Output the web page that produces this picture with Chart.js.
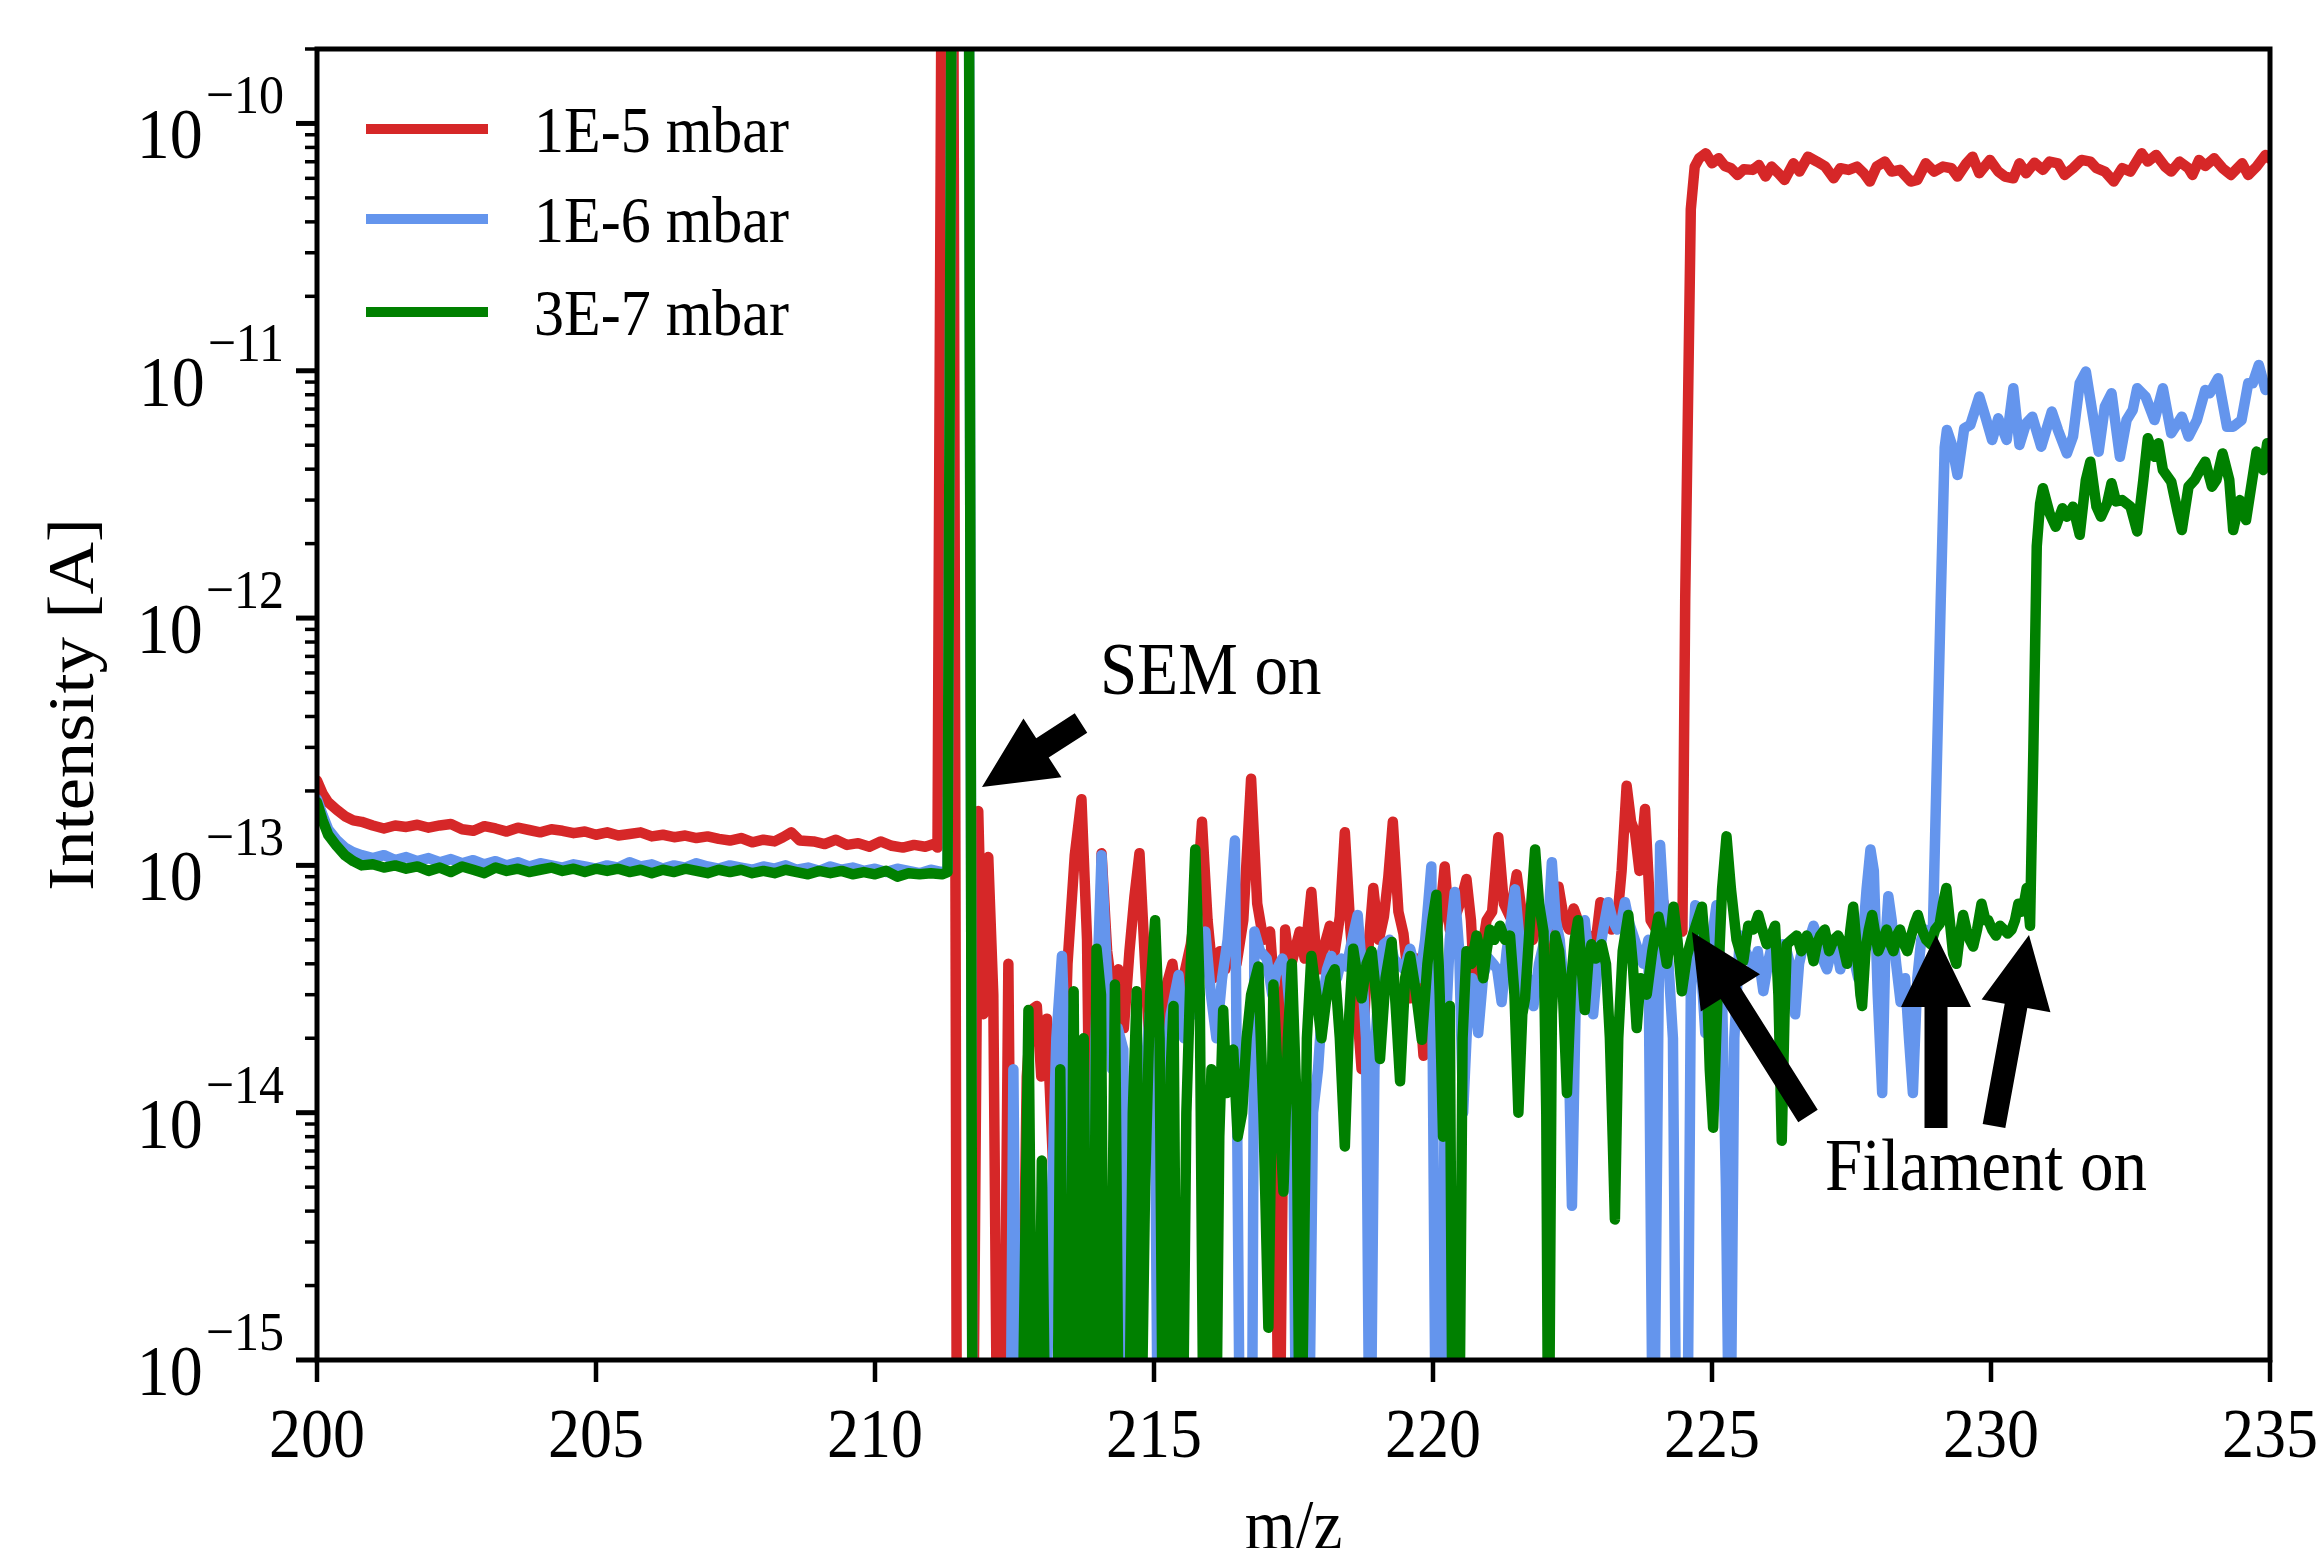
<!DOCTYPE html>
<html>
<head>
<meta charset="utf-8">
<script src="https://cdn.jsdelivr.net/npm/chart.js@4.4.1/dist/chart.umd.min.js"></script>
<style>
  html, body { margin: 0; padding: 0; background: #fff; }
  canvas { display: block; }
</style>
</head>
<body>
<canvas id="spectrum" width="2321" height="1548" style="width:2321px;height:1548px"></canvas>
<script>
// intensities are read in fA (1e-15 A); 0.2 means the trace dropped off the bottom
const FA = 1e-15;

const seriesLabels = ['1E-5 mbar', '1E-6 mbar', '3E-7 mbar'];
const seriesColors = ['#d62728', '#6495ed', '#008000'];
const xTicks = [200, 205, 210, 215, 220, 225, 230, 235];
const yDecades = [-15, -14, -13, -12, -11, -10];

// ---- 1E-5 mbar ----
const redBase = [[200,220],[200.1,195],[200.2,180],[200.35,168],[200.5,158],[200.65,152],[200.8,150],[201,145],[201.2,141],[201.4,145],[201.6,143],[201.8,146],[202,142],[202.2,145],[202.4,147],[202.6,140],[202.8,138],[203,144],[203.2,141],[203.4,137],[203.6,142],[203.8,139],[204,136],[204.2,140],[204.4,138],[204.6,135],[204.8,137],[205,133],[205.2,136],[205.4,132],[205.6,134],[205.8,136],[206,131],[206.2,133],[206.4,130],[206.6,132],[206.8,129],[207,131],[207.2,128],[207.4,126],[207.6,129],[207.8,124],[208,127],[208.2,125],[208.35,130],[208.5,136],[208.65,126],[208.9,125],[209.1,122],[209.3,127],[209.5,121],[209.7,123],[209.9,119],[210.1,125],[210.3,120],[210.5,118],[210.7,121],[210.9,119],[211.05,122],[211.12,118]];
const redNoise = [[211.2,1e6],[211.4,1e6],[211.47,0.2],[211.6,0.2],[211.75,0.2],[211.85,166],[211.94,25],[212.03,108],[212.12,30],[212.2,0.2],[212.3,0.2],[212.39,40],[212.48,0.2],[212.6,0.2],[212.72,14],[212.8,26],[212.9,27],[212.98,14],[213.08,24],[213.16,9],[213.25,3],[213.35,8],[213.45,40],[213.58,110],[213.7,185],[213.8,50],[213.93,0.2],[214.06,112],[214.16,45],[214.26,30],[214.36,38],[214.46,22],[214.56,45],[214.65,75],[214.74,112],[214.84,40],[214.92,18],[215,15],[215.12,20],[215.23,33],[215.33,40],[215.4,30],[215.47,31],[215.56,38],[215.66,48],[215.76,70],[215.86,150],[215.96,60],[216.06,35],[216.18,45],[216.28,38],[216.38,50],[216.48,40],[216.6,60],[216.74,224],[216.85,70],[216.96,50],[217.08,54],[217.16,30],[217.24,0.2],[217.35,55],[217.44,38],[217.52,45],[217.61,54],[217.7,42],[217.82,78],[217.9,45],[217.97,38],[218.06,48],[218.15,57],[218.24,45],[218.33,62],[218.42,136],[218.52,55],[218.62,30],[218.72,15],[218.82,40],[218.93,81],[219.03,50],[219.12,62],[219.2,90],[219.28,150],[219.38,65],[219.47,53],[219.59,29],[219.7,42],[219.83,17],[219.94,45],[220.05,52],[220.13,65],[220.21,99],[220.3,55],[220.4,62],[220.5,72],[220.6,88],[220.68,60],[220.75,30],[220.84,40],[220.96,60],[221.06,65],[221.17,130],[221.27,70],[221.38,62],[221.5,92],[221.6,62],[221.68,57],[221.79,50],[221.9,68],[221.98,55],[222.06,38],[222.15,58],[222.25,82],[222.35,60],[222.44,55],[222.52,67],[222.62,58],[222.72,48],[222.8,52],[222.87,40],[223,71],[223.1,58],[223.2,55],[223.3,60],[223.38,95],[223.47,210],[223.55,150],[223.62,136],[223.7,95],[223.8,169],[223.9,60],[224,55],[224.13,71],[224.22,55],[224.31,67],[224.4,58],[224.47,54]];
const redPlateau = [[224.52,1200],[224.62,45000],[224.69,66900],[224.77,72300],[224.89,75700],[225,69000],[225.12,72300],[225.23,67300],[225.34,65900],[225.46,61900],[225.57,65300],[225.73,64900],[225.84,67900],[225.96,61000],[226.07,66900],[226.19,62900],[226.3,59100],[226.46,69000],[226.57,63900],[226.72,73400],[226.88,70100],[227.03,66900],[227.18,60000],[227.3,65900],[227.45,64900],[227.6,66900],[227.72,62900],[227.83,58200],[227.95,66900],[228.1,70100],[228.22,63900],[228.37,64900],[228.56,58200],[228.68,59100],[228.83,69000],[228.98,63900],[229.14,66900],[229.29,65900],[229.4,61000],[229.56,69000],[229.67,73400],[229.79,62900],[229.98,71200],[230.13,63900],[230.25,61000],[230.4,60000],[230.51,69000],[230.63,62900],[230.78,69400],[230.93,64900],[231.05,70100],[231.2,69000],[231.32,61900],[231.47,65900],[231.62,71200],[231.78,70100],[231.89,65900],[232.04,63900],[232.2,58200],[232.35,65900],[232.5,63900],[232.7,75700],[232.81,70100],[232.96,74600],[233.12,66900],[233.23,63900],[233.38,70100],[233.54,65900],[233.61,61900],[233.73,71200],[233.84,67300],[234,72300],[234.15,65900],[234.3,61900],[234.5,69000],[234.61,61900],[234.76,66900],[234.92,74600],[235,72000]];

// ---- 1E-6 mbar ----
const blueBase = [[200,185],[200.1,160],[200.2,140],[200.35,127],[200.5,118],[200.65,113],[200.8,110],[201,107],[201.2,110],[201.4,105],[201.6,108],[201.8,104],[202,107],[202.2,103],[202.4,106],[202.6,102],[202.8,105],[203,101],[203.2,104],[203.4,100],[203.6,103],[203.8,99],[204,102],[204.2,100],[204.4,98],[204.6,101],[204.8,99],[205,97],[205.2,100],[205.4,98],[205.6,103],[205.8,99],[206,101],[206.2,97],[206.4,100],[206.6,98],[206.8,102],[207,99],[207.2,97],[207.4,100],[207.6,98],[207.8,96],[208,99],[208.2,97],[208.4,100],[208.6,96],[208.8,98],[209,95],[209.2,99],[209.4,96],[209.6,98],[209.8,95],[210,97],[210.2,94],[210.4,97],[210.6,95],[210.8,93],[211,96],[211.2,94],[211.3,96]];
const blueNoise = [[211.38,1e6],[211.68,1e6],[211.75,0.2],[211.9,0.2],[212.1,0.2],[212.3,0.2],[212.42,0.2],[212.48,15],[212.55,0.2],[212.7,0.2],[212.85,0.2],[213,0.2],[213.15,3],[213.25,20],[213.35,43],[213.45,10],[213.55,0.2],[213.65,5],[213.73,18],[213.8,0.2],[213.95,20],[214.06,110],[214.15,40],[214.25,15],[214.35,22],[214.45,18],[214.54,0.2],[214.63,0.2],[214.72,0.2],[214.82,12],[214.92,25],[215.02,10],[215.08,0.2],[215.2,15],[215.3,25],[215.44,36],[215.54,20],[215.62,30],[215.72,25],[215.82,40],[215.92,54],[216.02,30],[216.12,20],[216.22,35],[216.32,50],[216.45,126],[216.55,0.2],[216.65,0.2],[216.75,0.2],[216.8,54],[216.9,45],[217.02,42],[217.12,30],[217.2,38],[217.3,42],[217.38,36],[217.48,20],[217.56,0.2],[217.66,0.2],[217.76,0.2],[217.85,10],[217.94,15],[218.02,28],[218.1,38],[218.18,43],[218.28,35],[218.36,42],[218.45,39],[218.55,50],[218.65,63],[218.72,40],[218.8,20],[218.87,0.2],[218.95,15],[219.04,40],[219.12,48],[219.22,50],[219.3,42],[219.38,40],[219.48,38],[219.59,46],[219.68,38],[219.76,35],[219.86,50],[219.97,99],[220.06,0.2],[220.14,0.2],[220.22,20],[220.3,50],[220.39,78],[220.47,45],[220.54,10],[220.62,25],[220.7,35],[220.81,21],[220.9,36],[221,42],[221.08,40],[221.15,38],[221.23,28],[221.32,45],[221.4,60],[221.47,80],[221.55,50],[221.62,29],[221.7,35],[221.8,27],[221.9,40],[222,50],[222.07,60],[222.13,103],[222.2,60],[222.27,50],[222.36,30],[222.44,15],[222.49,4.2],[222.56,30],[222.64,58],[222.72,60],[222.8,40],[222.87,25],[222.95,40],[223.05,55],[223.14,71],[223.22,60],[223.3,55],[223.38,60],[223.44,71],[223.52,58],[223.59,52],[223.68,45],[223.77,40],[223.86,50],[223.95,0.2],[224.07,121],[224.15,60],[224.22,40],[224.3,20],[224.37,0.2],[224.46,0.2],[224.55,0.2],[224.62,30],[224.7,69],[224.8,40],[224.88,21],[224.97,45],[225.08,69],[225.18,30],[225.25,5],[225.32,0.2],[225.4,20],[225.5,52],[225.6,45],[225.67,42],[225.74,39],[225.82,45],[225.92,31],[226.02,42],[226.1,50],[226.2,45],[226.27,48],[226.34,45],[226.42,38],[226.49,25],[226.56,40],[226.64,48],[226.74,50],[226.82,57],[226.9,50],[226.98,42],[227.06,38],[227.14,45],[227.22,48],[227.3,38],[227.38,45],[227.46,50],[227.54,42],[227.62,35],[227.7,50],[227.77,80],[227.84,116],[227.9,95],[227.97,30],[228.05,12],[228.11,50],[228.16,75],[228.22,60],[228.3,40],[228.38,28],[228.46,35],[228.53,20],[228.6,12],[228.68,35],[228.75,50],[228.82,55],[228.9,52],[228.96,57]];
const bluePlateau = [[229.05,400],[229.1,1200],[229.17,4900],[229.21,5760],[229.29,5090],[229.4,3790],[229.52,5850],[229.63,6040],[229.79,7860],[229.9,6520],[230.02,5250],[230.13,6420],[230.28,5250],[230.4,8500],[230.51,5010],[230.63,6130],[230.74,6520],[230.9,4930],[231.09,6840],[231.2,5760],[231.36,4630],[231.47,5420],[231.59,8900],[231.7,9920],[231.81,6940],[231.93,4710],[232.04,7160],[232.16,8110],[232.31,4490],[232.43,6320],[232.54,6940],[232.62,8500],[232.77,7860],[232.93,6320],[233.08,8500],[233.23,5590],[233.42,6520],[233.54,5420],[233.69,6320],[233.84,8360],[233.92,8110],[234.07,9330],[234.23,5940],[234.34,5940],[234.49,6320],[234.61,8900],[234.69,8900],[234.8,10550],[234.92,8360],[235,8800]];

// ---- 3E-7 mbar ----
const greenBase = [[200,180],[200.1,152],[200.2,133],[200.35,120],[200.5,110],[200.65,104],[200.8,100],[201,101],[201.2,98],[201.4,100],[201.6,97],[201.8,99],[202,95],[202.2,98],[202.4,94],[202.6,99],[202.8,96],[203,93],[203.2,98],[203.4,95],[203.6,97],[203.8,94],[204,96],[204.2,98],[204.4,95],[204.6,97],[204.8,94],[205,97],[205.2,95],[205.4,97],[205.6,94],[205.8,96],[206,93],[206.2,96],[206.4,94],[206.6,97],[206.8,95],[207,93],[207.2,96],[207.4,94],[207.6,96],[207.8,93],[208,95],[208.2,93],[208.4,96],[208.6,94],[208.8,92],[209,95],[209.2,93],[209.4,95],[209.6,92],[209.8,94],[210,92],[210.2,95],[210.4,90],[210.6,93],[210.8,92],[211,93],[211.2,92],[211.3,94]];
const greenNoise = [[211.38,1e6],[211.68,1e6],[211.75,0.2],[211.9,0.2],[212.05,0.2],[212.2,0.2],[212.35,0.2],[212.5,0.2],[212.62,0.2],[212.75,26],[212.84,0.2],[212.92,0.2],[212.99,6.4],[213.07,0.2],[213.18,0.2],[213.26,0.2],[213.32,15],[213.4,0.2],[213.48,0.2],[213.56,31],[213.62,0.2],[213.67,2.7],[213.74,20],[213.82,0.2],[213.9,0.2],[213.97,46],[214.05,30],[214.12,0.2],[214.2,0.2],[214.3,33],[214.38,0.2],[214.46,0.2],[214.54,0.2],[214.62,10],[214.69,31],[214.75,0.2],[214.84,5],[214.93,30],[215.02,60],[215.1,20],[215.17,0.2],[215.23,2.1],[215.3,15],[215.35,27],[215.42,0.2],[215.5,0.2],[215.58,10],[215.66,40],[215.74,116],[215.82,30],[215.9,0.2],[215.97,5],[216.03,15],[216.1,0.2],[216.17,8],[216.24,26],[216.3,12],[216.36,17],[216.42,18],[216.5,8],[216.58,10],[216.66,20],[216.74,30],[216.87,39],[216.96,10],[217.05,1.35],[217.14,33],[217.23,12],[217.32,4.8],[217.4,20],[217.47,40],[217.56,10],[217.62,0.2],[217.67,1.2],[217.74,20],[217.82,43],[217.91,30],[218,20],[218.08,28],[218.16,35],[218.24,38],[218.33,20],[218.42,7.3],[218.5,25],[218.57,46],[218.65,35],[218.72,29],[218.81,40],[218.9,45],[218.98,30],[219.05,16.5],[219.15,35],[219.26,49],[219.34,25],[219.41,13.4],[219.5,35],[219.59,43],[219.7,30],[219.8,19.7],[219.9,40],[219.99,60],[220.06,76],[220.12,30],[220.18,8],[220.25,20],[220.3,27],[220.36,0.2],[220.46,0.2],[220.53,20],[220.6,45],[220.69,40],[220.78,52],[220.85,45],[220.9,35],[220.96,45],[221.02,55],[221.1,50],[221.2,57],[221.29,50],[221.38,52],[221.46,30],[221.53,10],[221.6,25],[221.65,29],[221.74,60],[221.83,116],[221.9,70],[221.98,54],[222.03,10],[222.07,0.2],[222.13,25],[222.19,52],[222.26,45],[222.33,30],[222.4,12],[222.48,35],[222.54,50],[222.6,60],[222.66,40],[222.72,26],[222.78,40],[222.84,48],[222.92,42],[223.02,48],[223.1,40],[223.17,20],[223.22,8],[223.26,3.7],[223.32,20],[223.4,45],[223.5,63],[223.58,40],[223.65,22],[223.72,35],[223.83,30],[223.93,45],[224.04,62],[224.12,50],[224.19,40],[224.25,50],[224.31,68],[224.38,50],[224.46,31],[224.55,43],[224.63,50],[224.72,58],[224.82,68],[224.9,40],[224.96,15],[225.02,8.7],[225.1,30],[225.18,80],[225.26,131],[225.34,80],[225.44,50],[225.5,45],[225.56,41],[225.65,57],[225.74,55],[225.83,63],[225.9,55],[225.98,48],[226.06,52],[226.13,57],[226.19,30],[226.25,7.7],[226.3,25],[226.34,48],[226.43,50],[226.52,52],[226.6,45],[226.7,52],[226.76,48],[226.82,41],[226.88,48],[226.94,52],[227.02,55],[227.1,45],[227.18,50],[227.26,52],[227.34,48],[227.42,40],[227.48,55],[227.53,68],[227.6,45],[227.66,30],[227.69,27],[227.75,45],[227.81,55],[227.87,63],[227.93,52],[227.98,45],[228.06,50],[228.13,55],[228.2,48],[228.25,45],[228.31,52],[228.37,55],[228.44,48],[228.5,45],[228.57,52],[228.63,58],[228.69,63],[228.76,55],[228.84,50],[228.92,48],[229,55],[229.08,58],[229.14,70],[229.2,81],[229.26,60],[229.32,44],[229.38,40],[229.44,52],[229.5,63],[229.56,55],[229.62,50],[229.68,47],[229.75,55],[229.83,70],[229.9,60],[229.95,60],[230.02,55],[230.09,52],[230.16,57],[230.23,55],[230.3,53],[230.37,55],[230.43,60],[230.49,70],[230.55,65],[230.6,72],[230.64,81],[230.7,57]];
const greenPlateau = [[230.76,300],[230.82,1950],[230.88,2900],[230.93,3350],[231.05,2650],[231.16,2340],[231.28,2780],[231.36,2570],[231.47,2820],[231.59,2170],[231.7,3620],[231.78,4290],[231.89,2820],[231.97,2570],[232.08,2910],[232.16,3510],[232.24,2960],[232.35,3000],[232.5,2820],[232.62,2240],[232.73,3620],[232.81,5330],[232.93,4490],[233,5090],[233.08,3970],[233.23,3560],[233.35,2650],[233.42,2270],[233.54,3400],[233.65,3620],[233.73,3910],[233.84,4290],[233.96,3400],[234.04,3620],[234.15,4630],[234.27,3620],[234.34,2270],[234.46,3000],[234.57,2490],[234.69,3730],[234.76,4710],[234.88,3970],[234.95,5090],[235,5000]];

// annotation arrows: [tipX, tipY, tailX, tailY] in canvas pixels
const semArrow = [982, 787, 1081, 723];
const filamentArrows = [[1692, 932, 1808, 1116], [1936, 935, 1936, 1128], [2029, 935, 1994, 1126]];

const FONT = '"Liberation Serif", "Times New Roman", "DejaVu Serif", serif';
const TEXT_SY = 1.1; // the source figure is slightly stretched vertically

function toPoints(segments){
  return segments.flat().map(([mz, fa]) => ({ x: mz, y: fa * FA }));
}

function drawText(ctx, str, x, y, size, align, rot){
  ctx.save();
  ctx.translate(x, y);
  ctx.scale(1, TEXT_SY);
  if (rot) ctx.rotate(rot);
  ctx.font = `${size}px ${FONT}`;
  ctx.textAlign = align || 'left';
  ctx.textBaseline = 'alphabetic';
  ctx.fillStyle = '#000';
  ctx.fillText(str, 0, 0);
  ctx.restore();
}

function textWidth(ctx, str, size){
  ctx.save();
  ctx.font = `${size}px ${FONT}`;
  const w = ctx.measureText(str).width;
  ctx.restore();
  return w;
}

function drawArrow(ctx, a){
  const [tx, ty, bx, by] = a;
  const len = Math.hypot(tx - bx, ty - by);
  const ux = (tx - bx) / len, uy = (ty - by) / len;
  const nx = -uy, ny = ux;
  const HL = 72, HW = 70, SW = 23;
  const hx = tx - ux * HL, hy = ty - uy * HL;
  ctx.beginPath();
  ctx.moveTo(tx, ty);
  ctx.lineTo(hx + nx * HW / 2, hy + ny * HW / 2);
  ctx.lineTo(hx + nx * SW / 2, hy + ny * SW / 2);
  ctx.lineTo(bx + nx * SW / 2, by + ny * SW / 2);
  ctx.lineTo(bx - nx * SW / 2, by - ny * SW / 2);
  ctx.lineTo(hx - nx * SW / 2, hy - ny * SW / 2);
  ctx.lineTo(hx - nx * HW / 2, hy - ny * HW / 2);
  ctx.closePath();
  ctx.fillStyle = '#000';
  ctx.fill();
}

const decorations = {
  id: 'decorations',
  afterDatasetsDraw(chart){
    const { ctx, chartArea: a, scales: { x, y } } = chart;
    ctx.save();

    // ticks
    ctx.strokeStyle = '#000';
    ctx.lineCap = 'butt';
    ctx.lineWidth = 4.5;
    xTicks.forEach(v => {
      const px = x.getPixelForValue(v);
      ctx.beginPath(); ctx.moveTo(px, a.bottom); ctx.lineTo(px, a.bottom + 22); ctx.stroke();
    });
    yDecades.forEach(k => {
      const py = y.getPixelForValue(Math.pow(10, k));
      ctx.lineWidth = 5;
      ctx.beginPath(); ctx.moveTo(a.left, py); ctx.lineTo(a.left - 21, py); ctx.stroke();
      if (k < -10) {
        ctx.lineWidth = 3.5;
        for (let m = 2; m <= 9; m++) {
          const pm = y.getPixelForValue(m * Math.pow(10, k));
          ctx.beginPath(); ctx.moveTo(a.left, pm); ctx.lineTo(a.left - 12, pm); ctx.stroke();
        }
      }
    });
    ctx.lineWidth = 3.5;
    const p2 = y.getPixelForValue(2e-10);
    ctx.beginPath(); ctx.moveTo(a.left, p2); ctx.lineTo(a.left - 12, p2); ctx.stroke();

    // frame
    ctx.lineWidth = 5;
    ctx.strokeRect(a.left, a.top, a.right - a.left, a.bottom - a.top);

    // tick labels
    xTicks.forEach(v => drawText(ctx, String(v), x.getPixelForValue(v), 1457, 64, 'center'));
    yDecades.forEach(k => {
      const py = y.getPixelForValue(Math.pow(10, k));
      const exp = '\u2212' + Math.abs(k);
      const ew = textWidth(ctx, exp, 50);
      drawText(ctx, exp, 284, py - 10, 50, 'right');
      drawText(ctx, '10', 284 - ew - 3, py + 35, 66, 'right');
    });

    // axis titles
    drawText(ctx, 'm/z', (a.left + a.right) / 2, 1549, 65, 'center');
    drawText(ctx, 'Intensity [A]', 93, (a.top + a.bottom) / 2, 66, 'center', -Math.PI / 2);

    // legend
    const rows = [129, 219, 312];
    seriesLabels.forEach((lab, i) => {
      ctx.strokeStyle = seriesColors[i];
      ctx.lineWidth = 10;
      ctx.beginPath(); ctx.moveTo(366, rows[i]); ctx.lineTo(488, rows[i]); ctx.stroke();
      drawText(ctx, lab, 534, rows[i] + 23, 60, 'left');
    });

    // annotations
    drawArrow(ctx, semArrow);
    filamentArrows.forEach(ar => drawArrow(ctx, ar));
    drawText(ctx, 'SEM on', 1100, 694, 67, 'left');
    drawText(ctx, 'Filament on', 1825, 1190, 67, 'left');

    ctx.restore();
  }
};

function dataset(i, segments, order){
  return {
    label: seriesLabels[i],
    data: toPoints(segments),
    borderColor: seriesColors[i],
    backgroundColor: seriesColors[i],
    borderWidth: 10.5,
    borderJoinStyle: 'round',
    borderCapStyle: 'round',
    pointRadius: 0,
    tension: 0,
    fill: false,
    clip: 0,
    order
  };
}

new Chart(document.getElementById('spectrum'), {
  type: 'line',
  data: {
    datasets: [
      dataset(0, [redBase, redNoise, redPlateau], 3),
      dataset(1, [blueBase, blueNoise, bluePlateau], 2),
      dataset(2, [greenBase, greenNoise, greenPlateau], 1)
    ]
  },
  options: {
    responsive: false,
    animation: false,
    devicePixelRatio: 1,
    layout: { padding: { left: 317, right: 51, top: 49, bottom: 188 } },
    scales: {
      x: { type: 'linear', min: 200, max: 235, display: false },
      y: { type: 'logarithmic', min: 1e-15, max: 2e-10, display: false }
    },
    plugins: { legend: { display: false }, tooltip: { enabled: false } }
  },
  plugins: [decorations]
});
</script>
</body>
</html>
